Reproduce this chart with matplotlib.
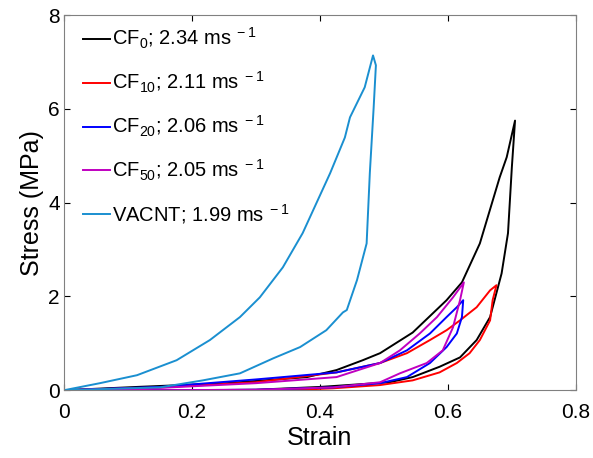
import matplotlib
matplotlib.use("Agg")
import matplotlib.pyplot as plt

plt.rcParams['font.family'] = ['Liberation Sans', 'DejaVu Sans']
plt.rcParams['mathtext.fontset'] = 'custom'
plt.rcParams['mathtext.rm'] = 'Liberation Sans'
plt.rcParams['mathtext.it'] = 'Liberation Sans'

# CF0 loop (loading upper branch then unloading lower branch)
cf0_x = [0, 0.114, 0.255, 0.38, 0.426, 0.467, 0.494, 0.545, 0.598, 0.622, 0.65, 0.681, 0.692, 0.705,
         0.70, 0.694, 0.684, 0.666, 0.645, 0.619, 0.587, 0.545, 0.509, 0.4, 0.3, 0.2, 0.1, 0]
cf0_y = [0, 0.07, 0.15, 0.28, 0.43, 0.64, 0.79, 1.23, 1.92, 2.3, 3.13, 4.54, 4.97, 5.75,
         4.75, 3.35, 2.49, 1.56, 1.07, 0.70, 0.50, 0.28, 0.17, 0.07, 0.01, 0.0, 0.0, 0]

cf10_x = [0, 0.15, 0.3, 0.426, 0.494, 0.536, 0.572, 0.598, 0.619, 0.645, 0.666, 0.676,
          0.67, 0.666, 0.65, 0.634, 0.614, 0.587, 0.545, 0.494, 0.42, 0.35, 0.2, 0]
cf10_y = [0, 0.06, 0.17, 0.38, 0.58, 0.79, 1.07, 1.28, 1.49, 1.77, 2.13, 2.24,
          1.92, 1.49, 1.07, 0.79, 0.58, 0.38, 0.21, 0.11, 0.04, 0.0, 0.0, 0]

cf20_x = [0, 0.15, 0.3, 0.426, 0.494, 0.536, 0.572, 0.598, 0.614, 0.624,
          0.622, 0.614, 0.598, 0.572, 0.536, 0.494, 0.42, 0.3, 0.15, 0]
cf20_y = [0, 0.07, 0.23, 0.38, 0.58, 0.85, 1.21, 1.56, 1.77, 1.92,
          1.56, 1.21, 0.92, 0.58, 0.28, 0.15, 0.06, 0.01, 0.0, 0]

cf50_x = [0, 0.15, 0.3, 0.426, 0.494, 0.525, 0.556, 0.583, 0.608, 0.625,
          0.619, 0.608, 0.592, 0.567, 0.525, 0.494, 0.42, 0.3, 0.15, 0]
cf50_y = [0, 0.05, 0.15, 0.28, 0.58, 0.85, 1.21, 1.56, 1.98, 2.3,
          1.92, 1.34, 0.85, 0.58, 0.36, 0.17, 0.06, 0.01, 0.0, 0]

vac_x = [0, 0.056, 0.114, 0.176, 0.228, 0.275, 0.306, 0.342, 0.373, 0.416, 0.439, 0.447, 0.47, 0.483,
         0.4875, 0.484, 0.478, 0.473, 0.458, 0.442, 0.436, 0.41, 0.369, 0.327, 0.275, 0.217, 0.15, 0]
vac_y = [0, 0.15, 0.32, 0.64, 1.07, 1.56, 1.98, 2.62, 3.35, 4.63, 5.39, 5.82, 6.46, 7.14,
         6.93, 6.03, 4.63, 3.13, 2.35, 1.71, 1.66, 1.28, 0.92, 0.68, 0.36, 0.21, 0.06, 0]

labels = [r'CF$_{0}$; 2.34 ms$^{\ -1}$', r'CF$_{10}$; 2.11 ms$^{\ -1}$',
          r'CF$_{20}$; 2.06 ms$^{\ -1}$', r'CF$_{50}$; 2.05 ms$^{\ -1}$',
          r'VACNT; 1.99 ms$^{\ -1}$']
colors = ['#000000', '#FF0000', '#0000FF', '#C000C0', '#1A8FD0']

fig = plt.figure(figsize=(5.93, 4.58), dpi=100)
ax = fig.add_axes([0.108, 0.148, 0.863, 0.819])
series = [(cf0_x, cf0_y), (cf10_x, cf10_y), (cf20_x, cf20_y), (cf50_x, cf50_y), (vac_x, vac_y)]
for (xs, ys), lab, c in zip(series, labels, colors):
    ax.plot(xs, ys, color=c, lw=1.4, label=lab)

ax.set_xlim(0, 0.8)
ax.set_ylim(0, 8)
ax.set_xticks([0, 0.2, 0.4, 0.6, 0.8])
ax.set_xticklabels(['0', '0.2', '0.4', '0.6', '0.8'])
ax.set_yticks([0, 2, 4, 6, 8])
ax.tick_params(labelsize=15, direction='in', length=4, top=True, right=True, width=0.8)
ax.tick_params(axis='x', pad=9)
ax.tick_params(axis='y', pad=3)
for s in ax.spines.values():
    s.set_color('#808080')
ax.set_xlabel('Strain', fontsize=18, labelpad=3)
ax.set_ylabel('Stress (MPa)', fontsize=18, labelpad=3)
ax.legend(loc='upper left', frameon=False, fontsize=14.5, handlelength=1.35,
          handletextpad=0.1, labelspacing=0.93, borderaxespad=0, borderpad=0,
          bbox_to_anchor=(0.037, 0.971))
fig.savefig('out.png', dpi=100)
